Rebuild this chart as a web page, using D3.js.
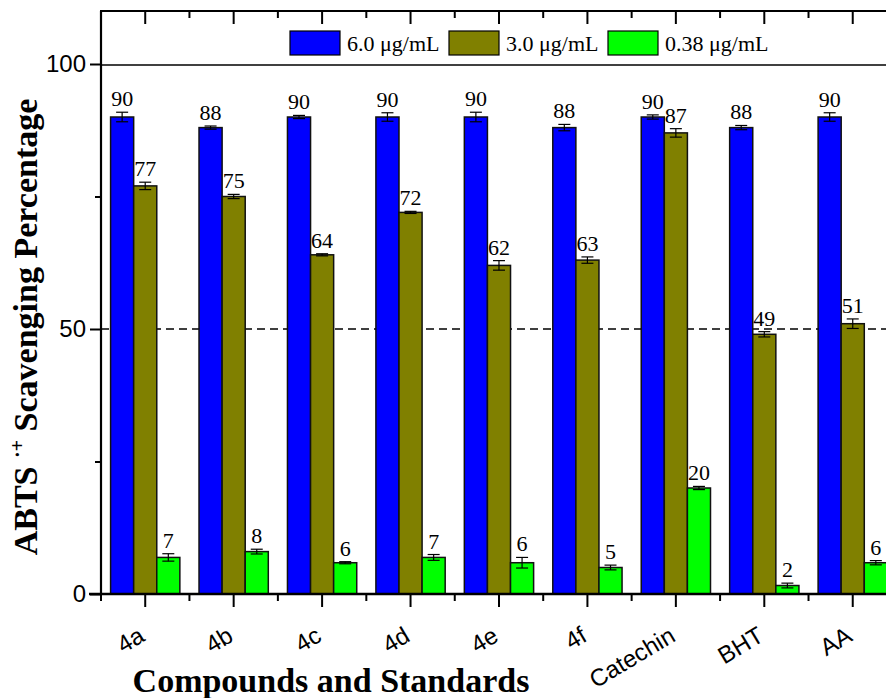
<!DOCTYPE html>
<html lang="en">
<head>
    <meta charset="UTF-8">
    <title>ABTS scavenging</title>
    <script src="https://d3js.org/d3.v7.min.js"></script>
    <style>
        body {
            margin: 0;
            background: #fff;
        }
        svg {
            display: block;
        }
    </style>
</head>
<body>
<svg width="886" height="698"></svg>

<script>
    // data
    const categories = ["4a", "4b", "4c", "4d", "4e", "4f", "Catechin", "BHT", "AA"];
    const seriesNames = ["6.0 μg/mL", "3.0 μg/mL", "0.38 μg/mL"];
    const seriesColors = ["#0000ff", "#808000", "#00ff00"];

    const conc60 = [90.0, 88.0, 90.0, 90.0, 90.0, 88.0, 90.0, 88.0, 90.0];
    const conc60Err = [0.9, 0.3, 0.3, 0.8, 0.9, 0.6, 0.4, 0.4, 0.8];
    const conc30 = [77.0, 75.0, 64.0, 72.0, 62.0, 63.0, 87.0, 49.0, 51.0];
    const conc30Err = [0.7, 0.4, 0.2, 0.2, 0.9, 0.6, 0.8, 0.5, 0.9];
    const conc038 = [6.9, 8.0, 5.9, 6.9, 5.9, 5.0, 20.0, 1.6, 5.9];
    const conc038Err = [0.7, 0.45, 0.2, 0.55, 1.0, 0.45, 0.3, 0.45, 0.4];

    const yMajorTicks = [0, 50, 100];
    const yMinorTicks = [25, 75];

    const allValues = [conc60, conc30, conc038];
    const allErrors = [conc60Err, conc30Err, conc038Err];

    const serif = "Liberation Serif, Times New Roman, serif";
    const sans = "Liberation Sans, Arial, sans-serif";

    let svg = d3.select("svg");

    const plotLeft = 101, plotTop = 11, plotBottom = 594;
    const plotRight = plotLeft + 88.44 * categories.length;

    // scales
    let y = d3.scaleLinear().domain([0, 110]).range([plotBottom, plotTop]);
    let x0 = d3.scaleBand().domain(categories).range([plotLeft, plotRight]);
    let x1 = d3.scaleBand().domain(d3.range(3))
        .range([0, x0.bandwidth()])
        .paddingOuter(0.415);

    // flatten into rows
    let rows = [];
    categories.forEach(function (c, i) {
        for (let s = 0; s < 3; s++) {
            rows.push({cat: c, s: s, v: allValues[s][i], e: allErrors[s][i]});
        }
    });

    // reference lines at 50 and 100
    svg.append("line")
        .attr("x1", plotLeft).attr("x2", plotRight)
        .attr("y1", y(50)).attr("y2", y(50))
        .attr("stroke", "#000").attr("stroke-width", 1.6)
        .attr("stroke-dasharray", "8,5");

    svg.append("line")
        .attr("x1", plotLeft).attr("x2", plotRight)
        .attr("y1", y(100) + 1).attr("y2", y(100) + 1)
        .attr("stroke", "#000").attr("stroke-width", 1.6);

    // bars
    svg.append("g")
        .selectAll("rect")
        .data(rows)
        .enter()
        .append("rect")
        .attr("x", d => x0(d.cat) + x1(d.s))
        .attr("width", x1.bandwidth())
        .attr("y", d => y(d.v))
        .attr("height", d => y(0) - y(d.v))
        .attr("fill", d => seriesColors[d.s])
        .attr("stroke", "#111")
        .attr("stroke-width", 1.5);

    // error bars
    let eb = svg.append("g").attr("stroke", "#000").attr("stroke-width", 1.2);
    rows.forEach(function (d) {
        let cx = x0(d.cat) + x1(d.s) + x1.bandwidth() / 2;
        eb.append("line").attr("x1", cx).attr("x2", cx)
            .attr("y1", y(d.v + d.e)).attr("y2", y(d.v - d.e));
        eb.append("line").attr("x1", cx - 6).attr("x2", cx + 6)
            .attr("y1", y(d.v + d.e)).attr("y2", y(d.v + d.e));
        eb.append("line").attr("x1", cx - 6).attr("x2", cx + 6)
            .attr("y1", y(d.v - d.e)).attr("y2", y(d.v - d.e));
    });

    // value labels
    svg.append("g")
        .selectAll("text")
        .data(rows)
        .enter()
        .append("text")
        .attr("x", d => x0(d.cat) + x1(d.s) + x1.bandwidth() / 2)
        .attr("y", d => y(d.v + d.e) - 6)
        .attr("text-anchor", "middle")
        .attr("font-family", serif)
        .attr("font-size", "22px")
        .attr("fill", "#000")
        .text(d => Math.round(d.v));

    // y axis
    let yAxis = svg.append("g").attr("transform", `translate(${plotLeft},0)`)
        .call(d3.axisLeft(y).tickValues(yMajorTicks).tickSize(11).tickPadding(4));
    yAxis.select(".domain").remove();
    yAxis.selectAll("line").attr("stroke-width", 2);
    yAxis.selectAll("text")
        .attr("font-family", sans)
        .attr("font-size", "24px");
    let yMinor = svg.append("g").attr("transform", `translate(${plotLeft},0)`)
        .call(d3.axisLeft(y).tickValues(yMinorTicks).tickSize(6).tickFormat(""));
    yMinor.select(".domain").remove();
    yMinor.selectAll("line").attr("stroke-width", 2);

    svg.append("line")
        .attr("x1", plotLeft).attr("x2", plotLeft)
        .attr("y1", plotTop).attr("y2", plotBottom + 1)
        .attr("stroke", "#000").attr("stroke-width", 2.2);

    // x axis bottom
    let xAxis = svg.append("g").attr("transform", `translate(0,${plotBottom})`)
        .call(d3.axisBottom(x0).tickSize(13));
    xAxis.select(".domain").remove();
    xAxis.selectAll("line").attr("stroke-width", 2);
    xAxis.selectAll("text")
        .attr("font-family", sans)
        .attr("font-size", "24px")
        .attr("text-anchor", "end")
        .attr("x", 0).attr("y", 0).attr("dy", 0)
        .attr("transform", "translate(1,46) rotate(-31)");

    let boundaries = categories.map(c => x0(c));
    svg.append("g").selectAll("line")
        .data(boundaries)
        .enter()
        .append("line")
        .attr("x1", d => d).attr("x2", d => d)
        .attr("y1", plotBottom).attr("y2", plotBottom + 7)
        .attr("stroke", "#000").attr("stroke-width", 2);

    svg.append("line")
        .attr("x1", plotLeft - 12).attr("x2", plotRight)
        .attr("y1", plotBottom).attr("y2", plotBottom)
        .attr("stroke", "#000").attr("stroke-width", 2.4);

    // top frame with inward ticks
    svg.append("line")
        .attr("x1", plotLeft - 1).attr("x2", plotRight)
        .attr("y1", plotTop).attr("y2", plotTop)
        .attr("stroke", "#000").attr("stroke-width", 2);
    svg.append("g").selectAll("line")
        .data(categories)
        .enter()
        .append("line")
        .attr("x1", d => x0(d) + x0.bandwidth() / 2).attr("x2", d => x0(d) + x0.bandwidth() / 2)
        .attr("y1", plotTop).attr("y2", plotTop + 13)
        .attr("stroke", "#000").attr("stroke-width", 2);
    svg.append("g").selectAll("line")
        .data(boundaries.slice(1))
        .enter()
        .append("line")
        .attr("x1", d => d).attr("x2", d => d)
        .attr("y1", plotTop).attr("y2", plotTop + 7)
        .attr("stroke", "#000").attr("stroke-width", 2);

    // legend
    let legendX = [290, 449, 608];
    let legend = svg.append("g");
    seriesNames.forEach(function (name, i) {
        legend.append("rect")
            .attr("x", legendX[i]).attr("y", 31)
            .attr("width", 50).attr("height", 24)
            .attr("fill", seriesColors[i])
            .attr("stroke", "#000").attr("stroke-width", 1.2);
        legend.append("text")
            .attr("x", legendX[i] + 57).attr("y", 51)
            .attr("font-family", serif)
            .attr("font-size", "22px")
            .text(name);
    });

    // axis titles
    svg.append("text")
        .attr("x", 331).attr("y", 692)
        .attr("text-anchor", "middle")
        .attr("font-family", serif)
        .attr("font-weight", "bold")
        .attr("font-size", "34px")
        .text("Compounds and Standards");

    let yTitle = svg.append("text")
        .attr("transform", "translate(37,327) rotate(-90)")
        .attr("text-anchor", "middle")
        .attr("font-family", serif)
        .attr("font-weight", "bold")
        .attr("font-size", "34px");
    yTitle.append("tspan").text("ABTS ");
    yTitle.append("tspan").attr("dy", -13).attr("font-size", "20px").text("·+");
    yTitle.append("tspan").attr("dy", 13).text(" Scavenging Percentage");
</script>
</body>
</html>
